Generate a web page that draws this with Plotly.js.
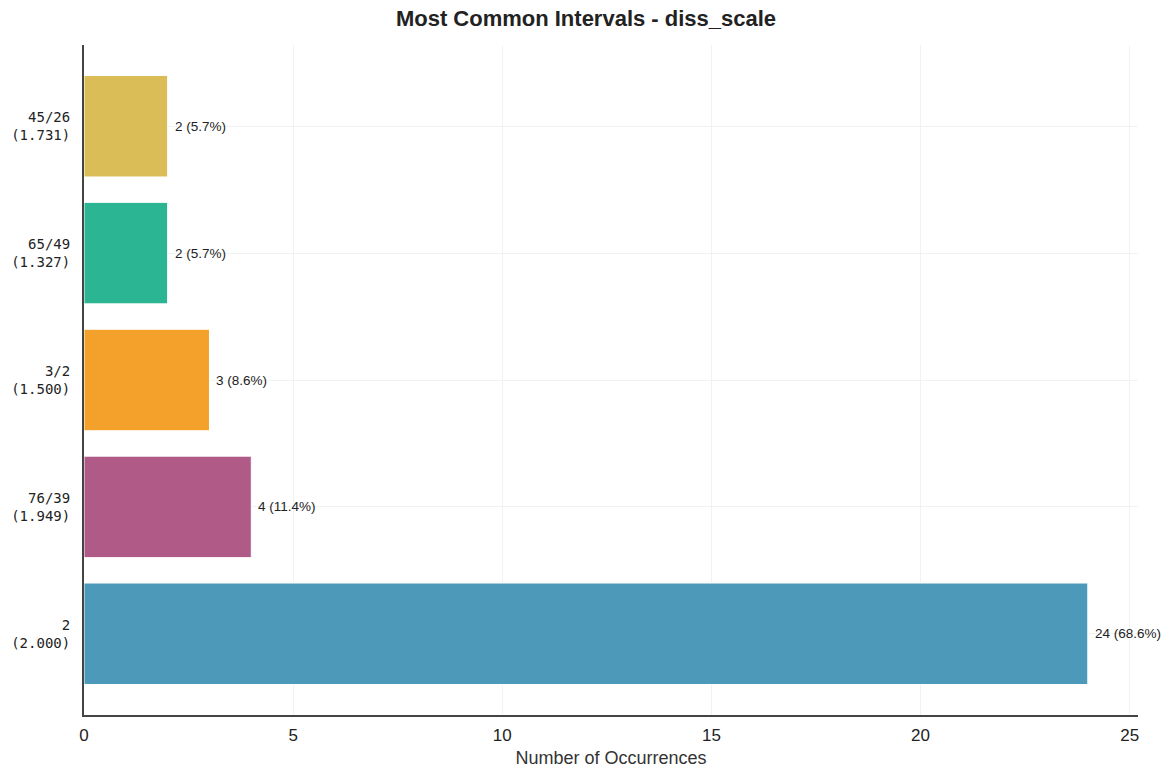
<!DOCTYPE html>
<html>
<head>
<meta charset="utf-8">
<script src="https://cdn.plot.ly/plotly-3.0.1.min.js"></script>
<style>
  html, body { margin: 0; padding: 0; background: #fff; }
  #chart { width: 1172px; height: 777px; }
</style>
</head>
<body>
<div id="chart"></div>
<script>
// intervals, bottom to top
var ratios = ["2", "76/39", "3/2", "65/49", "45/26"]
var decimals = ["2.000", "1.949", "1.500", "1.327", "1.731"]
var counts = [24, 4, 3, 2, 2]
var percents = ["68.6", "11.4", "8.6", "5.7", "5.7"]
var bar_colors = ["#4c99b9", "#b05a87", "#f3a12a", "#2bb592", "#dbbd58"]

var labels = ratios.map((r, i) => `${r}<br>(${decimals[i]})`)

var trace = {
    type: "bar",
    orientation: "h",
    x: counts,
    y: labels,
    width: 0.8,
    marker: { color: bar_colors, line: { color: "#ffffff", width: 1 } },
    hoverinfo: "none"
}

// count labels right of each bar
var notes = counts.map((c, i) => ({
    x: c,
    y: labels[i],
    text: `${c} (${percents[i]}%)`,
    showarrow: false,
    xanchor: "left",
    xshift: 5,
    font: { family: "Liberation Sans, Arial, sans-serif", size: 13.5, color: "#222" }
}))

var layout = {
    width: 1172,
    height: 777,
    margin: { l: 84, r: 34, t: 45, b: 62 },
    paper_bgcolor: "#ffffff",
    plot_bgcolor: "#ffffff",
    showlegend: false,
    bargap: 0.2,
    title: {
        text: "<b>Most Common Intervals - diss_scale</b>",
        x: 0.5, xanchor: "center",
        y: 0.976, yanchor: "middle",
        font: { family: "Liberation Sans, Arial, sans-serif", size: 22, color: "#222" }
    },
    xaxis: {
        range: [0, 25.2],
        tickvals: [0, 5, 10, 15, 20, 25],
        showline: true, linecolor: "#444", linewidth: 2,
        showgrid: true, gridcolor: "#f2f2f2", gridwidth: 1,
        zeroline: false,
        ticks: "", ticklabelstandoff: 4,
        tickfont: { family: "Liberation Sans, Arial, sans-serif", size: 17, color: "#222" },
        title: {
            text: "Number of Occurrences", standoff: 7,
            font: { family: "Liberation Sans, Arial, sans-serif", size: 18, color: "#333" }
        }
    },
    yaxis: {
        type: "category",
        range: [-0.64, 4.64],
        showline: true, linecolor: "#444", linewidth: 2,
        showgrid: true, gridcolor: "#f2f2f2", gridwidth: 1,
        zeroline: false,
        ticks: "", ticklabelstandoff: 9,
        tickfont: { family: "DejaVu Sans Mono, monospace", size: 14, color: "#222" }
    },
    annotations: notes
}

Plotly.newPlot("chart", [trace], layout, { displayModeBar: false, staticPlot: true })
</script>
</body>
</html>
